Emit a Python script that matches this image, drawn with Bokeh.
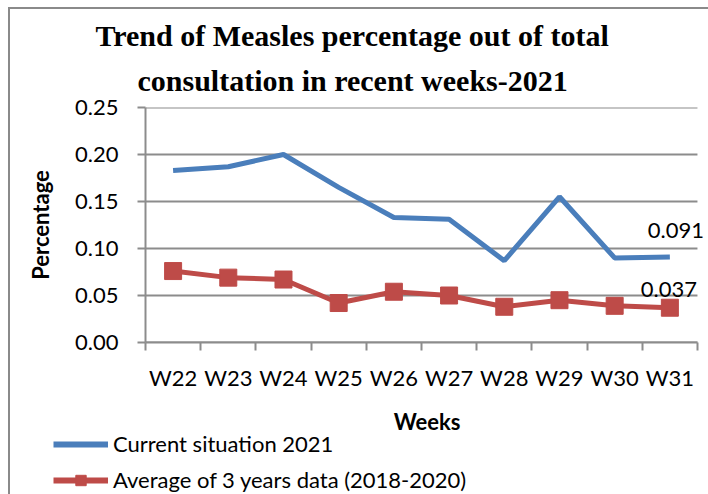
from bokeh.plotting import figure
from bokeh.layouts import column
from bokeh.models import (Range1d, LinearAxis, FixedTicker, Title,
                          LabelSet, ColumnDataSource, Legend, LegendItem,
                          NumeralTickFormatter)
from bokeh.core.properties import value
from bokeh.embed import file_html
from bokeh.resources import INLINE

# ---- data ----
weeks = ["W22", "W23", "W24", "W25", "W26", "W27", "W28", "W29", "W30", "W31"]
current_2021 = [0.183, 0.187, 0.200, 0.165, 0.133, 0.131, 0.087, 0.155, 0.090, 0.091]
avg_2018_2020 = [0.076, 0.069, 0.067, 0.042, 0.054, 0.050, 0.038, 0.045, 0.039, 0.037]
y_ticks = [0.00, 0.05, 0.10, 0.15, 0.20, 0.25]
end_labels = ["0.091", "0.037"]
end_values = [0.091, 0.037]
title_lines = ["Trend of Measles percentage out of total",
               "consultation in recent weeks-2021"]
series_names = ["Current situation 2021", "Average of 3 years data (2018-2020)"]

# category slots: each week sits in the middle of its slot (Excel-style)
n = len(weeks)
xpos = [i + 0.5 for i in range(n)]
bounds = list(range(n + 1))

BLUE = "#4a7ebb"
RED = "#be4b48"
GRID = "#8c8c8c"
FONT = "Lato"

p = figure(width=698, height=428,
           x_range=Range1d(0, n * 1.02), y_range=Range1d(0, 0.25),
           output_backend="svg", toolbar_location=None,
           x_axis_location=None,
           min_border_left=135, min_border_right=0,
           min_border_top=98, min_border_bottom=92)
p.outline_line_color = None
p.background_fill_color = "white"
p.border_fill_color = "white"

# y axis
ya = p.yaxis[0]
ya.ticker = FixedTicker(ticks=y_ticks)
ya.formatter = NumeralTickFormatter(format="0.00")
ya.major_tick_out = 8
ya.major_tick_in = 0
ya.minor_tick_line_color = None
ya.axis_line_color = GRID
ya.axis_line_width = 2
ya.major_tick_line_color = GRID
ya.major_tick_line_width = 2
ya.major_label_text_font = FONT
ya.major_label_text_font_size = "22px"
ya.major_label_text_color = "black"
ya.major_label_standoff = 19
ya.axis_label = "Percentage"
ya.axis_label_text_font = FONT
ya.axis_label_text_font_style = "bold"
ya.axis_label_text_font_size = "22px"
ya.axis_label_text_color = "black"
ya.axis_label_standoff = 18

# horizontal gridlines, only across the category slots
p.ygrid.visible = False
p.xgrid.visible = False
p.segment(x0=[0] * len(y_ticks), x1=[n] * len(y_ticks), y0=y_ticks, y1=y_ticks,
          line_color=GRID, line_width=2, level="underlay")

# x axis: week labels at slot centres, boundary ticks as minor ticks
xa = LinearAxis(ticker=FixedTicker(ticks=xpos, minor_ticks=bounds),
                major_label_overrides={x: w for x, w in zip(xpos, weeks)},
                bounds=(0, n))
xa.axis_line_color = GRID
xa.axis_line_width = 2
xa.major_tick_out = 0
xa.major_tick_in = 0
xa.major_tick_line_color = None
xa.minor_tick_out = 8
xa.minor_tick_in = 0
xa.minor_tick_line_color = GRID
xa.minor_tick_line_width = 2
xa.major_label_text_font = FONT
xa.major_label_text_font_size = "22px"
xa.major_label_text_color = "black"
xa.major_label_standoff = 13
xa.axis_label = "Weeks"
xa.axis_label_text_font = FONT
xa.axis_label_text_font_style = "bold"
xa.axis_label_text_font_size = "22px"
xa.axis_label_text_color = "black"
xa.axis_label_standoff = 14
p.add_layout(xa, "below")

# series
blue_line = p.line(xpos, current_2021, line_color=BLUE, line_width=5)
red_line = p.line(xpos, avg_2018_2020, line_color=RED, line_width=5)
red_pts = p.scatter(xpos, avg_2018_2020, marker="square", size=17,
                    fill_color=RED, line_color=RED)

# end labels
lbl_src = ColumnDataSource(dict(x=[xpos[-1], xpos[-1]], y=end_values, text=end_labels,
                                dx=[6, -1], dy=[26, 18]))
p.add_layout(LabelSet(x="x", y="y", text="text", source=lbl_src,
                      x_offset="dx", y_offset="dy",
                      text_align="center", text_baseline="middle",
                      text_font=value(FONT), text_font_size="22px", text_color="black"))

# title (two lines)
def style_title(t, txt, standoff, offset):
    t.text = txt
    t.align = "left"
    t.offset = offset
    t.text_font = "Liberation Serif"
    t.text_font_style = "bold"
    t.text_font_size = "30px"
    t.text_color = "black"
    t.text_line_height = 0.8
    t.standoff = standoff

style_title(p.title, title_lines[0], 0, -50)
t2 = Title()
style_title(t2, title_lines[1], 21, -8)
p.add_layout(t2, "above")

# legend in its own transparent strip below the chart
lf = figure(width=833, height=63, x_range=Range1d(100, 101), y_range=Range1d(0, 1),
            output_backend="svg", toolbar_location=None,
            x_axis_location=None, y_axis_location=None,
            min_border_left=0, min_border_right=0, min_border_top=0, min_border_bottom=0)
lf.outline_line_color = None
lf.background_fill_alpha = 0
lf.border_fill_alpha = 0
lf.xgrid.visible = False
lf.ygrid.visible = False
lg_blue = lf.line(xpos, current_2021, line_color=BLUE, line_width=6)
lg_red = lf.line(xpos, avg_2018_2020, line_color=RED, line_width=6)
lg_pts = lf.scatter(xpos, avg_2018_2020, marker="square", size=17,
                    fill_color=RED, line_color=RED)
legend = Legend(items=[LegendItem(label=series_names[0], renderers=[lg_blue]),
                       LegendItem(label=series_names[1], renderers=[lg_red, lg_pts])],
                location=(43, 1), orientation="vertical",
                glyph_width=55, glyph_height=26, label_standoff=5, spacing=9,
                padding=0, margin=0, border_line_color=None,
                background_fill_alpha=0,
                label_text_font=FONT, label_text_font_size="22px", label_text_color="black")
lf.add_layout(legend)
lf.styles = {"margin-left": "-135px", "margin-top": "-6px"}

layout = column(p, lf, spacing=0)
layout.styles = {"margin-left": "8px", "margin-top": "7px",
                 "border-left": "2px solid #8a8a8a", "border-top": "2px solid #8a8a8a"}

open("out.html", "w").write(file_html(layout, INLINE))
